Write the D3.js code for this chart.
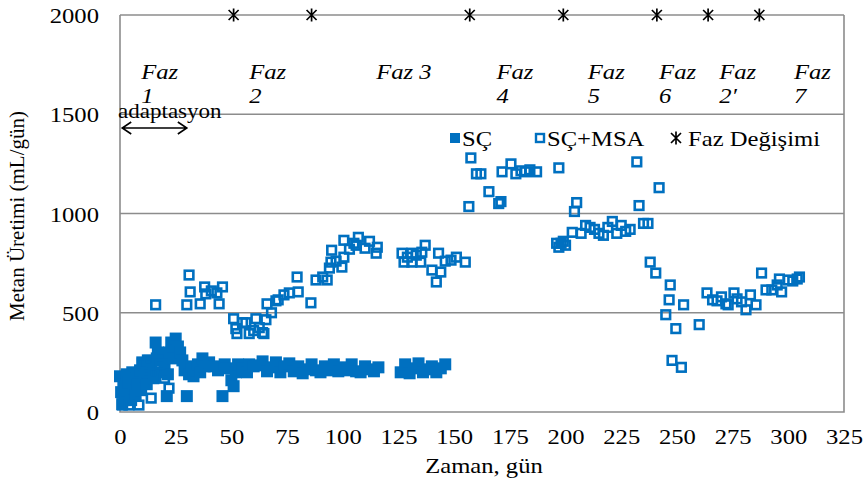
<!DOCTYPE html>
<html>
<head>
<meta charset="utf-8">
<script src="https://cdn.jsdelivr.net/npm/d3@7"></script>
<style>
  html, body { margin: 0; padding: 0; background: #fff; }
  svg { display: block; }
  text { font-family: "Liberation Serif", "Times New Roman", serif; fill: #000; }
</style>
</head>
<body>
<svg id="chart" width="864" height="488"></svg>
<script>
// Daily methane production (mL/gün) of the two reactors
const sc = [
  [0,180],[0.5,100],[1,40],[1.5,140],[2,60],[3,190],[3.5,110],[4,150],[5,60],[5.5,200],
  [6,120],[7,90],[7.5,170],[8,140],[9,210],[9.5,110],[10,250],[11,180],[12,140],[12.5,260],
  [13,200],[14,230],[15,170],[16,350],[16.5,270],[17,300],[18,200],[19,260],[20,240],[21,80],
  [21.5,190],[22,300],[23,350],[24,270],[25,370],[26,330],[27,300],[28,260],[29,210],[30,80],
  [31,190],[32,230],[33,180],[34,210],[35,240],[36,200],[37,270],[38,230],[40,250],[42,230],
  [44,210],[46,80],[47,240],[48,220],[50,160],[51,130],[52,200],[53,240],[55,220],[57,200],
  [58,240],[60,230],[62,235],[64,255],[66,205],[68,225],[70,250],[72,200],[74,230],[76,245],
  [78,205],[80,230],[82,195],[84,215],[86,240],[88,210],[90,200],[92,230],[94,210],[96,240],
  [98,205],[100,225],[102,210],[104,240],[106,205],[108,200],[110,230],[112,215],[114,205],[116,225],
  [126,200],[128,240],[130,195],[132,220],[134,245],[136,200],[138,215],[140,230],[142,200],[144,220],[146,240]
];
const scMsa = [
  [1,35],[4,35],[8.5,35],[14,70],[10,245],[12,200],[15,195],[13,260],[18,240],[20,170],[16,540],[22,120],
  [30,540],[31,690],[31.5,605],[36,545],[38,630],[38.5,595],[41,610],[43.5,600],[44.5,545],[46,630],
  [51,470],[52,420],[52.5,395],[55,450],[56.5,450],[58,395],[60,410],[61,470],[62.5,425],[64,400],
  [64.6,395],[65.5,465],[66,545],[68,500],[70,560],[71,565],[73.6,590],[76,600],[79.5,680],[80,605],
  [85.7,550],[88,665],[91,680],[93,665],[94,725],[94.7,755],[95,815],[97,760],[99.6,730],[100.5,780],
  [100.5,865],[103,820],[105,850],[106,840],[107,880],[110,825],[112,860],[115,800],[115.5,830],
  [126.6,800],[127.5,755],[129,780],[131,800],[131,755],[133,790],[135,755],[135.5,805],[137,840],
  [140,715],[142,655],[143,800],[144,705],[146,760],[148.6,765],[151,780],[155,755],
  [156.6,1035],[157.5,1280],[160,1200],[162,1200],[165.6,1110],[170,1050],[171,1060],[171.5,1210],
  [175.5,1250],[177.7,1200],[180,1215],[182,1210],[184,1220],[187,1210],[197,1230],
  [196,850],[197,830],[198,850],[199,860],[200,840],[203,905],[204,1010],[205,1055],[207,900],
  [209,940],[211,930],[213,920],[215,900],[217,890],[219,930],[221,960],[223,900],[225,940],
  [227,910],[229,920],[232,1260],[233,1040],[235,950],[237,950],
  [238,755],[240.5,700],[242,1130],[245,490],[246.5,565],[247,640],[247.8,260],[249.5,420],
  [252,225],[253,540],[260,440],
  [263.5,600],[266,565],[268,560],[270,580],[272,545],[273,540],[275.6,600],[277,570],[279,555],
  [281,515],[283,590],[285.5,540],[288,700],[290,615],[292.6,615],[295,640],[296,670],[297,605],
  [300,665],[302,660],[304,670],[305,680]
];
// Days on which the feeding phase changed
const phaseChanges = [51, 86, 157, 199, 241, 264, 287];
// Phase captions: day position, first line, second line
const phaseLabels = [
  [9.5, "Faz", "1"], [58, "Faz", "2"], [115, "Faz 3", ""], [169, "Faz", "4"],
  [210, "Faz", "5"], [242, "Faz", "6"], [269, "Faz", "2′"], [302.5, "Faz", "7"]
];
const xTicks = [0,25,50,75,100,125,150,175,200,225,250,275,300,325];
const yTicks = [0,500,1000,1500,2000];

const blue = "#0070C0";
const grid = "#8c8c8c";
const SX = 1.12; // horizontal text stretch

const svg = d3.select("#chart");
svg.append("rect").attr("width", 864).attr("height", 488).attr("fill", "#fff");

const x = d3.scaleLinear().domain([0, 325]).range([120, 844]);
const y = d3.scaleLinear().domain([0, 2000]).range([412, 15]);

// horizontal gridlines
svg.append("g").selectAll("line").data(yTicks.filter(v => v > 0)).join("line")
  .attr("x1", x(0)).attr("x2", x(325))
  .attr("y1", d => y(d)).attr("y2", d => y(d))
  .attr("stroke", grid).attr("stroke-width", 1.6);

// plot frame: left axis, bottom, right
svg.append("path")
  .attr("d", `M${x(0)},${y(2000)}V${y(0)}H${x(325)}V${y(2000)}`)
  .attr("fill", "none").attr("stroke", grid).attr("stroke-width", 1.6);

// y axis labels
const yAxis = svg.append("g").attr("transform", `translate(${x(0)},0)`)
  .call(d3.axisLeft(y).tickValues(yTicks).tickSize(0).tickPadding(0).tickFormat(d3.format("d")));
yAxis.select(".domain").remove();
yAxis.selectAll("text")
  .attr("font-family", "Liberation Serif").attr("font-size", 22)
  .attr("x", -21 / SX).attr("dy", "0.35em")
  .attr("transform", `scale(${SX},1)`);

// x axis labels
const xAxis = svg.append("g").attr("transform", `translate(0,${y(0)})`)
  .call(d3.axisBottom(x).tickValues(xTicks).tickSize(0).tickPadding(0).tickFormat(d3.format("d")));
xAxis.select(".domain").remove();
xAxis.selectAll(".tick text")
  .attr("font-family", "Liberation Serif").attr("font-size", 22)
  .attr("y", 32).attr("dy", 0)
  .attr("transform", `scale(${SX},1)`);

// axis titles
svg.append("text")
  .attr("transform", `translate(484,473) scale(${SX},1)`)
  .attr("text-anchor", "middle").attr("font-size", 22)
  .text("Zaman, gün");
svg.append("text")
  .attr("transform", `translate(24,216) rotate(-90)`)
  .attr("text-anchor", "middle").attr("font-size", 21)
  .text("Metan Üretimi (mL/gün)");

// SÇ reactor (filled squares)
const fs = 12;
svg.append("g").selectAll("rect").data(sc).join("rect")
  .attr("x", d => x(d[0]) - fs / 2).attr("y", d => y(d[1]) - fs / 2)
  .attr("width", fs).attr("height", fs).attr("fill", blue);

// SÇ+MSA reactor (open squares)
const hs = 8.6;
svg.append("g").selectAll("rect").data(scMsa).join("rect")
  .attr("x", d => x(d[0]) - hs / 2).attr("y", d => y(d[1]) - hs / 2)
  .attr("width", hs).attr("height", hs)
  .attr("fill", "none").attr("stroke", blue).attr("stroke-width", 2.6);

// asterisk marker for phase changes
const star = "M-5,-5L5,5M-5,5L5,-5M0,-6.5V6.5";
svg.append("g").selectAll("path").data(phaseChanges).join("path")
  .attr("transform", d => `translate(${x(d)},${y(2000)})`)
  .attr("d", star).attr("stroke", "#000").attr("stroke-width", 1.7).attr("fill", "none");

// phase captions
const pl = svg.append("g");
phaseLabels.forEach(([day, l1, l2]) => {
  const t = pl.append("text")
    .attr("transform", `translate(${x(day)},79) scale(${SX},1)`)
    .attr("font-size", 22).attr("font-style", "italic").attr("fill", "#333");
  t.append("tspan").attr("x", 0).attr("y", 0).text(l1);
  if (l2) t.append("tspan").attr("x", 0).attr("y", 24).text(l2);
});

// adaptation period
svg.append("text")
  .attr("transform", `translate(118,118) scale(${SX * 0.98},1)`)
  .attr("font-size", 21).text("adaptasyon");
const ax1 = x(1), ax2 = x(30), ay = 128;
svg.append("path")
  .attr("d", `M${ax1},${ay}H${ax2}M${ax1 + 9},${ay - 6}L${ax1},${ay}L${ax1 + 9},${ay + 6}M${ax2 - 9},${ay - 6}L${ax2},${ay}L${ax2 - 9},${ay + 6}`)
  .attr("fill", "none").attr("stroke", "#000").attr("stroke-width", 1.6);

// legend
const lg = svg.append("g");
lg.append("rect").attr("x", 450).attr("y", 133).attr("width", 10).attr("height", 10).attr("fill", blue);
lg.append("text").attr("transform", `translate(462,146) scale(${SX},1)`).attr("font-size", 22).text("SÇ");
lg.append("rect").attr("x", 536).attr("y", 134).attr("width", 8).attr("height", 8)
  .attr("fill", "none").attr("stroke", blue).attr("stroke-width", 2.4);
lg.append("text").attr("transform", `translate(547,146) scale(${SX},1)`).attr("font-size", 22).text("SÇ+MSA");
lg.append("path").attr("transform", "translate(676,138)").attr("d", star)
  .attr("stroke", "#000").attr("stroke-width", 1.7).attr("fill", "none");
lg.append("text").attr("transform", `translate(688,146) scale(${SX},1)`).attr("font-size", 22).text("Faz Değişimi");
</script>
</body>
</html>
